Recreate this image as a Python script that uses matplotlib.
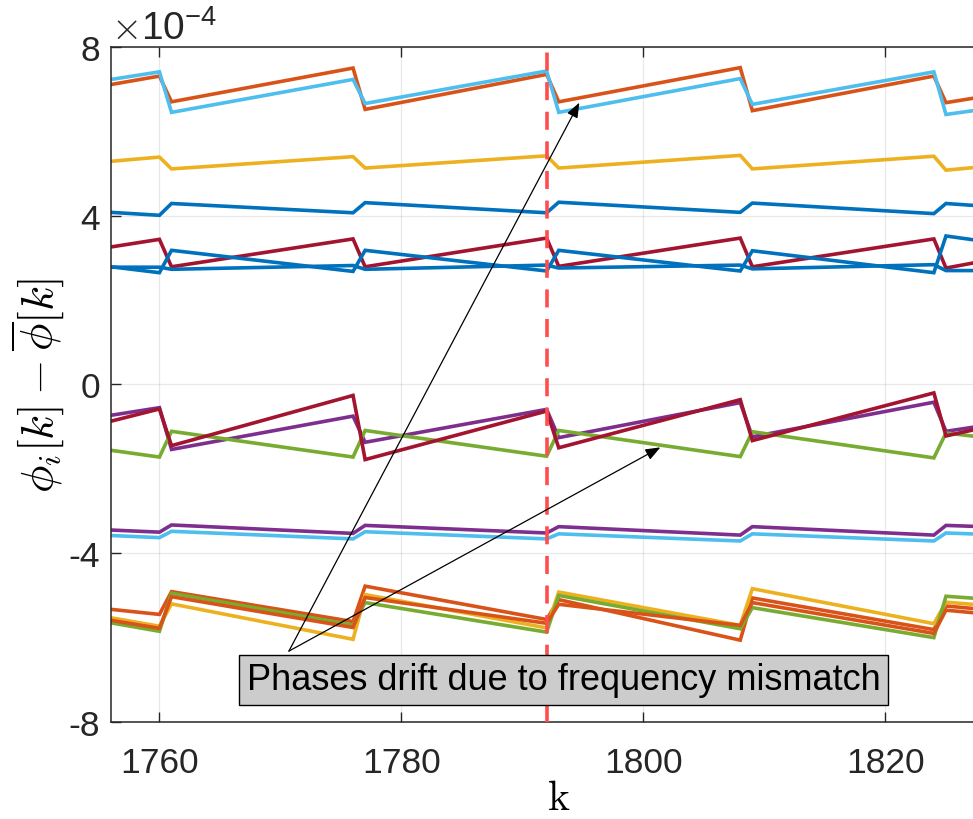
#!/usr/bin/env python3

import matplotlib
matplotlib.use('Agg')
import matplotlib.pyplot as plt

# sample indices where the phase error changes slope (one resync step every 16 samples)
k_breaks = [1756, 1760, 1761, 1776, 1777, 1792, 1793, 1808, 1809, 1824, 1825, 1828]

# phi_i[k] - mean phi[k], in units of 1e-4 rad
top_orange = [7.11, 7.31, 6.70, 7.50, 6.52, 7.35, 6.70, 7.51, 6.49, 7.31, 6.68, 6.82]
top_cyan = [7.23, 7.41, 6.45, 7.23, 6.66, 7.43, 6.45, 7.25, 6.64, 7.41, 6.40, 6.52]
mid_yellow = [5.29, 5.39, 5.11, 5.40, 5.13, 5.42, 5.13, 5.43, 5.11, 5.41, 5.08, 5.16]
mid_blue = [4.08, 4.01, 4.29, 4.07, 4.31, 4.07, 4.32, 4.08, 4.30, 4.05, 4.29, 4.23]
upper_crimson = [3.26, 3.44, 2.79, 3.45, 2.79, 3.47, 2.80, 3.47, 2.79, 3.45, 2.76, 2.92]
blue_saw = [2.79, 2.65, 3.18, 2.68, 3.18, 2.69, 3.18, 2.69, 3.17, 2.65, 3.52, 3.40]
blue_flat = [2.78, 2.78, 2.73, 2.82, 2.73, 2.83, 2.76, 2.83, 2.74, 2.84, 2.70, 2.70]
neg_purple = [-0.73, -0.55, -1.54, -0.75, -1.37, -0.59, -1.26, -0.43, -1.24, -0.42, -1.11, -0.98]
neg_crimson = [-0.87, -0.58, -1.45, -0.26, -1.78, -0.63, -1.50, -0.36, -1.33, -0.20, -1.22, -1.03]
neg_green = [-1.56, -1.72, -1.11, -1.72, -1.09, -1.70, -1.09, -1.71, -1.12, -1.74, -1.15, -1.25]
low_purple = [-3.45, -3.50, -3.33, -3.53, -3.34, -3.52, -3.37, -3.57, -3.37, -3.57, -3.34, -3.37]
low_cyan = [-3.58, -3.63, -3.48, -3.66, -3.49, -3.66, -3.54, -3.71, -3.54, -3.71, -3.52, -3.55]
bottom_orange1 = [-5.33, -5.45, -4.91, -5.62, -4.78, -5.57, -5.10, -6.06, -5.06, -5.81, -5.25, -5.33]
bottom_orange2 = [-5.59, -5.78, -5.03, -5.76, -5.05, -5.66, -5.21, -5.71, -5.17, -5.90, -5.35, -5.43]
bottom_yellow = [-5.53, -5.73, -5.20, -6.04, -4.98, -5.77, -4.92, -5.71, -4.84, -5.67, -5.16, -5.23]
bottom_green = [-5.65, -5.85, -4.95, -5.70, -5.17, -5.87, -5.00, -5.79, -5.29, -6.00, -5.02, -5.08]

sync_k = 1792
x_ticks = [1760, 1780, 1800, 1820]
y_ticks = [-8, -4, 0, 4, 8]
note = 'Phases drift due to frequency mismatch'

# matlab default line colours
BLUE = '#0072BD'
ORANGE = '#D95319'
YELLOW = '#EDB120'
PURPLE = '#7E2F8E'
GREEN = '#77AC30'
CYAN = '#4DBEEE'
CRIMSON = '#A2142F'

series = [
    (mid_blue, BLUE), (top_orange, ORANGE), (mid_yellow, YELLOW),
    (neg_purple, PURPLE), (neg_green, GREEN), (top_cyan, CYAN),
    (upper_crimson, CRIMSON), (blue_saw, BLUE), (bottom_orange1, ORANGE),
    (bottom_yellow, YELLOW), (low_purple, PURPLE), (bottom_green, GREEN),
    (low_cyan, CYAN), (neg_crimson, CRIMSON), (blue_flat, BLUE),
    (bottom_orange2, ORANGE),
]

plt.rcParams['font.family'] = ['Liberation Sans', 'DejaVu Sans']
plt.rcParams['mathtext.fontset'] = 'cm'

fig = plt.figure(figsize=(9.73, 8.2), dpi=100)
# axes run off the right-hand edge of the figure
ax = fig.add_axes([0.1141, 0.1183, 0.9203, 0.8232])

for vals, col in series:
    ax.plot(k_breaks, vals, color=col, lw=2.6, solid_joinstyle='miter')

ax.axvline(sync_k, color='#FF4D4D', lw=2.6, ls=(0, (5, 3.2)), zorder=5)

ax.set_xlim(1756, 1830)
ax.set_ylim(-8, 8)
ax.set_xticks(x_ticks)
ax.set_yticks(y_ticks)
ax.set_yticklabels([str(t) for t in y_ticks])
ax.tick_params(direction='in', length=7, width=1, colors='#262626',
               labelsize=25.5, top=True, right=True)
ax.tick_params(axis='x', pad=17)
ax.tick_params(axis='y', pad=8)
ax.grid(True, color='#000000', alpha=0.09, lw=0.9)
ax.set_axisbelow(True)
for sp in ax.spines.values():
    sp.set_color('#262626')
    sp.set_linewidth(1.1)

ax.set_xlabel(r'$\mathrm{k}$', fontsize=30)
ax.xaxis.set_label_coords(0.5, -0.083)
ax.set_ylabel(r'$\phi_i[k] - \overline{\phi}[k]$', fontsize=33, labelpad=2)
ax.text(0.0, 1.0, r'$\times\mathregular{10^{-4}}$', transform=ax.transAxes,
        fontsize=28, color='#262626', ha='left', va='bottom')

# annotation box with two arrows from the same corner
start = (1770.7, -6.32)
for tip in [(1794.7, 6.68), (1801.4, -1.49)]:
    ax.annotate('', xy=tip, xytext=start,
                arrowprops=dict(arrowstyle='-|>,head_length=0.9,head_width=0.35',
                                color='black', lw=0.9, shrinkA=0, shrinkB=0),
                zorder=6)

fig.text(563.5 / 973, 1 - 681 / 820, note, fontsize=26, ha='center', va='center',
         bbox=dict(boxstyle='square,pad=0.2', facecolor='#CCCCCC',
                   edgecolor='black', lw=1.0), zorder=7)

fig.savefig('out.png', dpi=100)
